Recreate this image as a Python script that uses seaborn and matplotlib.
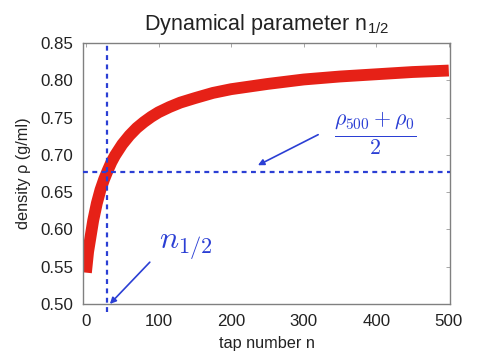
import numpy as np
import pandas as pd
import matplotlib
matplotlib.use("Agg")
import matplotlib.pyplot as plt
import seaborn as sns

# values
tap_n = [0, 3, 6, 10, 15, 20, 25, 30, 35, 40, 50, 60, 70, 80, 90, 100, 115,
         130, 150, 175, 200, 250, 300, 350, 400, 450, 500]
density = [0.542, 0.570, 0.588, 0.612, 0.635, 0.653, 0.667, 0.679, 0.690,
           0.699, 0.714, 0.726, 0.736, 0.744, 0.751, 0.757, 0.764, 0.770,
           0.776, 0.783, 0.788, 0.795, 0.801, 0.805, 0.808, 0.811, 0.813]
n_half = 29
rho_half = 0.677
x_ticks = [0, 100, 200, 300, 400, 500]
y_ticks = [0.50, 0.55, 0.60, 0.65, 0.70, 0.75, 0.80, 0.85]

df = pd.DataFrame({"n": tap_n, "rho": density})

sns.set_theme(style="white")
plt.rcParams["font.family"] = ["Liberation Sans", "DejaVu Sans"]
plt.rcParams["mathtext.fontset"] = "cm"

fig = plt.figure(figsize=(4.8, 3.64), dpi=100)
ax = fig.add_axes([0.173, 0.165, 0.765, 0.717])

blue = "#2b3fd4"
sns.lineplot(data=df, x="n", y="rho", color="#e62117", linewidth=8.5,
             solid_capstyle="butt", ax=ax, zorder=2)

ax.axhline(rho_half, color=blue, linestyle=(0, (2.2, 2)), linewidth=1.6, zorder=3)
ax.axvline(n_half, ymin=-0.03, ymax=1, color=blue, linestyle=(0, (2.2, 2)),
           linewidth=1.6, clip_on=False, zorder=3)

# labels and their arrows
ax.text(399, 0.728, r"$\frac{\rho_{500}+\rho_0}{2}$", color=blue, fontsize=22.5,
        ha="center", va="center")
ax.annotate("", xy=(237, 0.686), xytext=(320, 0.727),
            arrowprops=dict(arrowstyle="-|>", color=blue, lw=1.2,
                            shrinkA=0, shrinkB=0, mutation_scale=9))
ax.text(137, 0.577, r"$n_{1/2}$", color=blue, fontsize=23,
        ha="center", va="center")
ax.annotate("", xy=(33, 0.5), xytext=(88, 0.556),
            arrowprops=dict(arrowstyle="-|>", color=blue, lw=1.2,
                            shrinkA=0, shrinkB=0, mutation_scale=9),
            annotation_clip=False)

ax.set_xlim(-4, 502)
ax.set_ylim(0.50, 0.85)
ax.set_xticks(x_ticks)
ax.set_yticks(y_ticks)
ax.set_yticklabels([f"{v:.2f}" for v in y_ticks])
ax.tick_params(direction="in", length=3, width=0.6, color="#999999",
               top=True, right=True, labelsize=12.2, labelcolor="#222222", pad=7)
for s in ax.spines.values():
    s.set_color("#808080")
    s.set_linewidth(1.0)

ax.set_xlabel("tap number n", fontsize=11.7, color="#222222", labelpad=5)
ax.set_ylabel("density ρ (g/ml)", fontsize=11.7, color="#222222", labelpad=7)
ax.set_title(r"Dynamical parameter n$_{\mathregular{1/2}}$", fontsize=15.5,
             color="#222222", pad=9)

fig.savefig("out.png", dpi=100)
